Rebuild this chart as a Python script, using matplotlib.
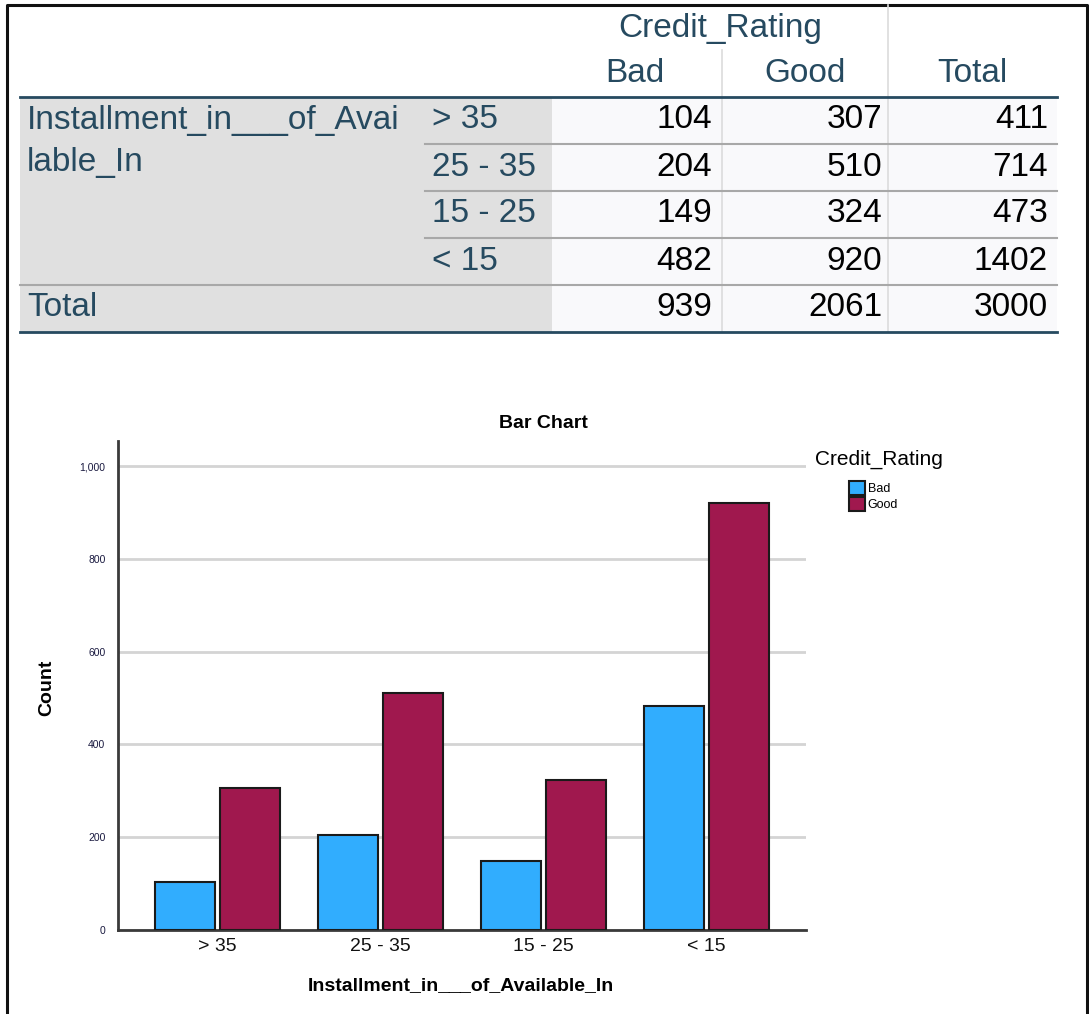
import matplotlib.pyplot as plt
import numpy as np
from matplotlib.patches import Rectangle

# crosstab data
categories = ['> 35', '25 - 35', '15 - 25', '< 15']
bad = [104, 204, 149, 482]
good = [307, 510, 324, 920]
row_totals = [411, 714, 473, 1402]
col_totals = [939, 2061, 3000]
tick_labels = ['> 35', '25 - 35', '15 - 25', '< 15']

plt.rcParams['font.family'] = ['Liberation Sans', 'DejaVu Sans']

W, H = 1089, 1014
fig = plt.figure(figsize=(W / 100, H / 100), dpi=100)

# full-figure pixel canvas for table and frame
bg = fig.add_axes([0, 0, 1, 1])
bg.set_xlim(0, W)
bg.set_ylim(H, 0)
bg.axis('off')

# outer frame
bg.plot([7, 7, 1087, 1087], [H + 5, 5, 5, H + 5], color='#111111', lw=2.2)

navy = '#264a60'
txt = '#010101'
fs = 24

# table backgrounds
top, rh = 97, 47
rows_y = [top + i * rh for i in range(6)]
bg.add_patch(Rectangle((20, top), 532, 5 * rh, facecolor='#e0e0e0', edgecolor='none'))
bg.add_patch(Rectangle((552, top), 505, 5 * rh, facecolor='#f9f9fb', edgecolor='none'))

# grid lines
bg.plot([722, 722], [50, rows_y[-1]], color='#dcdcdc', lw=1.2)
bg.plot([888, 888], [5, rows_y[-1]], color='#dcdcdc', lw=1.2)
for y in rows_y[1:4]:
    bg.plot([425, 1057], [y, y], color='#a8a8a8', lw=1.5)
bg.plot([20, 1057], [rows_y[4], rows_y[4]], color='#a8a8a8', lw=1.5)
bg.plot([20, 1057], [top, top], color='#264a60', lw=2)
bg.plot([20, 1057], [rows_y[-1], rows_y[-1]], color='#264a60', lw=2)

# header
bg.text(720, 29, 'Credit_Rating', fontsize=fs, color=navy, ha='center', va='center')
for x, s in zip([635, 805, 972], ['Bad', 'Good', 'Total']):
    bg.text(x, 74, s, fontsize=fs, color=navy, ha='center', va='center')

# row labels
bg.text(27, 120, 'Installment_in___of_Avai', fontsize=fs, color=navy, ha='left', va='center')
bg.text(27, 163, 'lable_In', fontsize=fs, color=navy, ha='left', va='center')
bg.text(27, rows_y[4] + 23, 'Total', fontsize=fs, color=navy, ha='left', va='center')
for i, c in enumerate(categories):
    bg.text(432, rows_y[i] + 23, c, fontsize=fs, color=navy, ha='left', va='center')

# numbers
for i in range(4):
    yc = rows_y[i] + 23
    for x, v in zip([712, 882, 1048], [bad[i], good[i], row_totals[i]]):
        bg.text(x, yc, str(v), fontsize=fs, color=txt, ha='right', va='center')
for x, v in zip([712, 882, 1048], col_totals):
    bg.text(x, rows_y[4] + 23, str(v), fontsize=fs, color=txt, ha='right', va='center')

# bar chart
x0, x1, y0, y1 = 118, 806, 441, 930
ax = fig.add_axes([x0 / W, 1 - y1 / H, (x1 - x0) / W, (y1 - y0) / H])
x = np.arange(len(categories))
bw = 0.368
ax.bar(x - 0.2, bad, bw, color='#31adfe', edgecolor='#1a1a1a', lw=1.5, label='Bad', zorder=3)
ax.bar(x + 0.2, good, bw, color='#a0184e', edgecolor='#1a1a1a', lw=1.5, label='Good', zorder=3)
ax.set_xlim(-0.613, 3.613)
ax.set_ylim(0, 1054)
ax.set_yticks([0, 200, 400, 600, 800, 1000])
ax.set_yticklabels(['0', '200', '400', '600', '800', '1,000'], fontsize=7.5, color='#1a1a40')
ax.set_xticks(x)
ax.set_xticklabels(tick_labels, fontsize=14, color='#111111')
ax.tick_params(axis='both', length=0)
ax.tick_params(axis='x', pad=6)
ax.tick_params(axis='y', pad=9)
ax.grid(axis='y', color='#d4d4d4', lw=2, zorder=0)
for s in ['top', 'right']:
    ax.spines[s].set_visible(False)
for s in ['left', 'bottom']:
    ax.spines[s].set_color('#3a3a3a')
    ax.spines[s].set_linewidth(2)

# titles placed in figure pixels
bg.text(543, 424, 'Bar Chart', fontsize=14, fontweight='bold', ha='center', va='center')
bg.text(47, 688, 'Count', fontsize=14, fontweight='bold', rotation=90, ha='center', va='center')
bg.text(461, 986, 'Installment_in___of_Available_In', fontsize=14, fontweight='bold',
        ha='center', va='center')

# legend
bg.text(815, 459, 'Credit_Rating', fontsize=15, ha='left', va='center')
leg = ax.legend(loc='upper left', bbox_to_anchor=(849 / W, 1 - 481 / H),
                bbox_transform=fig.transFigure, frameon=False, fontsize=9,
                handlelength=1.3, handleheight=1.35, handletextpad=0.2,
                labelspacing=0.15, borderpad=0, borderaxespad=0)
for h in leg.legend_handles:
    h.set_linewidth(1.5)

fig.savefig('out.png', dpi=100)
